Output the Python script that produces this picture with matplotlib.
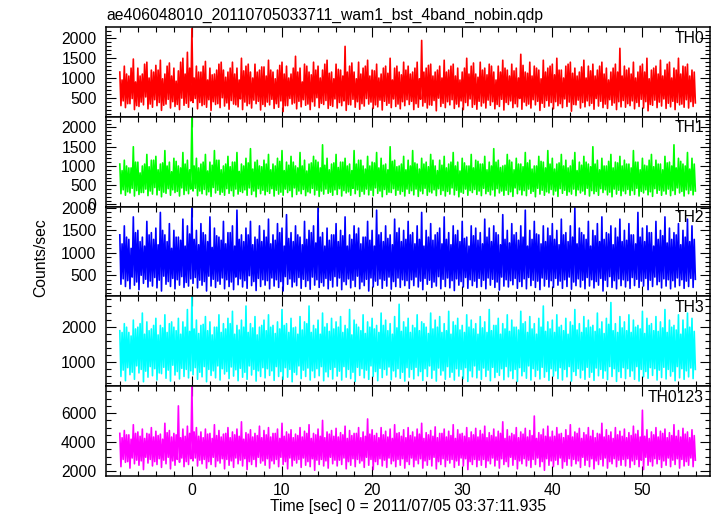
import numpy as np
import matplotlib
matplotlib.use("Agg")
import matplotlib.pyplot as plt
from matplotlib.ticker import MultipleLocator

plt.rcParams['font.family'] = ['Liberation Sans', 'DejaVu Sans']

title = "ae406048010_20110705033711_wam1_bst_4band_nobin.qdp"
xlabel = "Time [sec] 0 = 2011/07/05 03:37:11.935"
ylabel = "Counts/sec"
bands = ["TH0", "TH1", "TH2", "TH3", "TH0123"]
colors = ["#ff0000", "#00ff00", "#0000ff", "#00ffff", "#ff00ff"]
t_start = -8.0
t_step = 0.125

#peak / trough estimates, two per 0.5 s (hi, hi2 and lo, lo2)
th0_hi = [1150,1300,1050,1480,1250,1100,1400,1200, 1320,1450,1100,1380,1250,1180,1500,1650,
          2250,1300,1150,1420,1250,1100,1350,1200, 1150,1400,1250,1500,1300,1150,1350,1200,
          1280,1450,1150,1200,1400,1300,1100,1550, 1250,1350,1150,1400,1300,1200,1450,1150,
          1350,1200,1800,1300,1150,1400,1250,1450, 1200,1350,1100,1300,1500,1250,1150,1400,
          1300,1150,1400,1950,1250,1350,1150,1300, 1450,1200,1350,1250,1150,1500,1300,1100,
          1400,1250,1350,1150,1300,1450,1200,1350, 1250,1600,1150,1400,1300,1200,1450,1250,
          1350,1500,1200,1300,1400,1250,1150,1450, 1300,1350,1200,1400,1250,1150,1350,1750,
          1300,1250,1400,1150,1350,1500,1200,1300, 1450,1200,1400,1250,1500,1300,1350,1200]
th0_hi2 = [950,1100,1250,900,1050,1350,1000,1150, 1200,980,1300,1050,920,1400,1100,1250,
           1000,1150,1300,950,1080,1200,1400,1020, 1250,1100,950,1180,1350,1000,1150,1280,
           1050,1200,980,1320,1100,1000,1250,1150, 900,1300,1080,1200,1000,1350,1120,980,
           1220,1050,1150,1380,980,1100,1300,1050, 1180,1000,1250,1120,950,1300,1080,1200,
           1100,1250,980,1150,1320,1050,1200,1000, 1150,1300,1050,950,1250,1100,1380,1020,
           1200,1080,1300,950,1150,1250,1050,1180, 1000,1320,1120,1050,1250,980,1150,1300,
           1080,1200,1000,1350,1120,1050,1280,1000, 1180,1050,1300,1100,950,1250,1150,1050,
           1200,1100,1000,1300,1150,980,1250,1100, 1050,1350,1000,1200,1100,1280,1050,1150]
th0_lo = [300,250,350,200,280,320,220,260, 300,180,340,240,280,200,310,260,
          380,220,300,260,180,330,250,290, 210,340,270,200,300,240,350,190,
          280,320,230,260,150,300,340,220, 270,310,200,290,250,330,230,280,
          240,300,180,320,260,210,290,340, 230,270,190,310,250,280,220,300,
          330,200,260,290,240,310,170,280, 250,320,230,270,200,300,260,210,
          290,240,310,220,280,190,330,250, 270,210,300,240,320,180,260,290,
          220,300,250,280,160,320,240,270, 300,210,290,250,230,310,200,270,
          260,300,220,280,240,170,310,250, 290,230,270,200,320,260,240,280]
th0_lo2 = [420,350,480,300,390,520,340,450, 380,310,460,400,330,490,360,420,
           480,380,330,450,400,350,500,370, 430,320,470,390,350,440,410,330,
           390,460,350,420,300,480,370,410, 450,340,400,500,360,430,310,470,
           380,420,330,460,400,350,480,390, 320,440,410,360,470,340,400,450,
           410,350,460,380,320,430,490,360, 400,450,340,420,380,470,330,410,
           370,440,400,330,460,380,420,350, 480,390,340,450,410,360,430,380,
           400,350,470,390,330,440,380,420, 360,480,410,340,450,370,400,430,
           350,420,380,460,400,330,440,390, 470,360,410,380,340,450,400,370]

th1_hi = [1050,1150,950,1500,1100,1000,1300,1150, 1250,1050,1400,1100,1200,1000,1350,1150,
          2300,1200,1050,1300,1100,1400,1150,1000, 1250,1100,1350,1050,1200,1450,1100,1000,
          1150,1300,1050,1200,1400,1100,1250,1000, 1350,1150,1050,1250,1100,1550,1200,1050,
          1300,1100,1200,1050,1400,1150,1000,1250, 1100,1350,1200,1050,1500,1150,1000,1250,
          1150,1400,1050,1200,1100,1300,1000,1150, 1250,1050,1350,1100,1200,1000,1300,1150,
          1050,1250,1100,1450,1150,1000,1300,1100, 1200,1050,1350,1150,1000,1250,1100,1400,
          1200,1050,1300,1150,1000,1350,1100,1250, 1050,1500,1150,1200,1000,1300,1100,1250,
          1150,1050,1400,1100,1200,1000,1300,1150, 1050,1250,1100,1550,1200,1050,1350,1200]
th1_hi2 = [880,1000,950,1100,820,1050,980,1150, 900,1080,1000,850,1120,950,1050,900,
           1000,950,1100,870,1020,1150,900,1050, 980,1100,860,1000,1080,920,1150,980,
           1050,900,1000,1120,880,1020,1100,950, 1000,870,1080,1150,950,1020,900,1080,
           960,1100,1000,880,1050,1150,920,1000, 1080,950,1020,900,1120,980,1050,900,
           1000,1080,920,1050,980,1150,880,1020, 950,1100,1000,870,1080,1000,950,1120,
           1050,900,1000,1100,960,1020,1150,900, 1050,980,1080,920,1000,1120,950,1050,
           920,1080,1000,950,1150,880,1020,1100, 980,1050,900,1000,1120,950,1080,1000,
           1050,950,1100,900,1020,1150,980,1050, 900,1080,1000,950,1120,1000,920,1050]
th1_lo = [280,240,300,220,260,310,230,270, 250,200,290,240,310,220,260,280,
          350,230,280,250,210,300,260,240, 290,220,270,310,240,260,200,280,
          250,290,220,270,240,310,200,260, 280,230,300,250,210,270,290,240,
          260,220,300,240,280,210,270,250, 230,290,200,260,310,240,270,220,
          290,250,210,280,240,300,230,260, 220,270,250,200,290,240,310,260,
          230,280,250,220,300,240,260,210, 280,250,230,290,200,270,240,300,
          250,210,290,240,270,230,300,260, 220,280,240,310,250,200,270,230,
          280,240,260,220,300,250,210,290, 240,270,230,260,300,220,280,250]
th1_lo2 = [380,330,420,360,310,400,350,440, 370,320,410,380,340,430,360,400,
           420,350,390,330,440,370,320,410, 360,400,340,380,430,350,410,370,
           340,410,370,320,400,360,430,350, 390,330,420,370,350,400,320,380,
           410,360,330,420,380,340,400,370, 430,350,390,320,410,370,340,400,
           360,400,350,420,330,380,410,360, 340,430,370,320,400,360,390,350,
           420,340,380,410,350,370,330,430, 380,360,400,340,420,370,330,390,
           350,410,370,330,400,380,350,420, 360,340,410,380,320,400,370,350,
           390,360,420,340,380,330,410,370, 350,400,360,430,340,380,370,350]

th2_hi = [1400,1600,1300,1800,1500,1350,1700,1450, 1550,1900,1400,1650,1500,1350,1750,1600,
          2000,1500,1650,1400,1800,1550,1350,1700, 1450,1600,1950,1400,1550,1700,1350,1600,
          1500,1750,1400,1650,1550,1850,1450,1600, 1350,1700,1500,1600,2000,1450,1550,1400,
          1650,1500,1800,1400,1600,1550,1350,1700, 1500,1950,1450,1600,1400,1750,1550,1500,
          1700,1450,1600,1900,1500,1650,1400,1550, 1800,1450,1600,1500,1700,1350,1600,1550,
          1450,1750,1550,1600,1400,1850,1500,1650, 1450,1600,1950,1500,1700,1400,1600,1550,
          1650,1500,1750,1450,1600,2000,1550,1400, 1700,1500,1650,1800,1450,1600,1550,1750,
          1500,1650,1400,1900,1550,1600,1450,1700, 1500,1800,1550,1450,1650,1500,1750,1600]
th2_hi2 = [1200,1350,1100,1450,1250,1150,1400,1300, 1180,1500,1250,1100,1350,1280,1150,1420,
           1300,1180,1450,1250,1120,1380,1280,1200, 1450,1150,1300,1250,1400,1180,1300,1250,
           1350,1200,1280,1450,1150,1320,1250,1400, 1180,1300,1450,1220,1350,1150,1280,1400,
           1250,1380,1150,1300,1420,1200,1350,1280, 1150,1400,1250,1320,1180,1450,1250,1300,
           1400,1200,1300,1150,1350,1280,1450,1200, 1300,1180,1400,1250,1320,1150,1380,1280,
           1200,1350,1250,1450,1180,1300,1220,1400, 1280,1350,1150,1300,1420,1200,1250,1380,
           1300,1180,1400,1250,1350,1200,1450,1300, 1150,1380,1250,1300,1420,1180,1350,1250,
           1280,1400,1200,1350,1250,1450,1150,1300, 1380,1220,1300,1400,1180,1350,1250,1300]
th2_lo = [300,250,200,280,180,320,240,260, 220,150,300,250,200,280,230,260,
          320,220,280,150,260,230,300,200, 250,180,290,240,210,270,160,250,
          280,200,260,230,150,300,240,270, 210,250,190,280,230,260,200,240,
          260,180,290,220,250,200,270,150, 240,280,210,260,190,250,230,270,
          210,270,240,180,300,230,260,200, 250,220,160,280,240,210,270,230,
          250,200,280,230,170,260,240,290, 210,250,200,270,230,180,260,240,
          230,280,210,250,190,270,240,200, 260,220,280,150,250,230,200,270,
          240,210,270,230,260,180,250,290, 220,260,200,240,270,210,250,230]
th2_lo2 = [420,380,460,350,500,410,370,450, 390,480,360,430,400,470,340,420,
           450,390,360,480,410,370,440,400, 350,460,420,380,490,360,430,400,
           380,440,400,360,470,420,350,450, 410,380,460,400,340,430,390,470,
           440,360,420,390,480,350,410,440, 370,420,390,460,360,440,400,380,
           400,460,370,430,390,350,470,410, 440,380,420,360,450,400,370,430,
           390,440,410,350,460,400,380,430, 360,420,450,390,370,440,410,380,
           430,370,400,460,350,420,390,450, 400,360,430,390,470,380,420,400,
           380,450,410,370,430,390,460,360, 420,400,380,440,400,370,430,410]

th3_hi = [1900,2100,1850,2200,2000,2400,2150,1950, 2250,2050,2350,2100,2000,2250,2150,2500,
          2900,2200,2050,2300,2150,2000,2350,2100, 2250,2450,2050,2200,2600,2100,2300,2000,
          2200,2350,2050,2150,2500,2100,2250,2000, 2300,2150,2600,2050,2200,2400,2100,2250,
          2150,2300,2050,2500,2200,2000,2350,2150, 2250,2050,2400,2200,2100,2300,2650,2150,
          2250,2050,2350,2150,2000,2400,2200,2300, 2100,2450,2150,2250,2050,2350,2200,2100,
          2300,2150,2500,2050,2250,2100,2350,2200, 2000,2450,2150,2300,2100,2250,2600,2150,
          2200,2350,2050,2250,2150,2500,2100,2300, 2200,2050,2400,2150,2250,2700,2100,2300,
          2150,2350,2200,2050,2450,2250,2100,2300, 2150,2500,2200,2050,2350,2200,2400,2250]
th3_hi2 = [1850,2000,1750,1950,2100,1800,1900,2050, 1780,1980,1850,2150,1900,1800,2000,1880,
           1950,1820,2080,1900,1780,2000,1850,1950, 2100,1800,1920,2000,1850,1980,1780,2050,
           1900,2000,1820,1950,2050,1850,1980,1800, 1920,2100,1850,1950,1800,2000,1880,1950,
           2000,1850,1950,1780,2080,1900,1820,2000, 1950,1850,2050,1900,1800,1980,1880,2000,
           1850,1980,1900,2100,1820,1950,2000,1850, 1900,1800,2050,1920,1850,2000,1950,1800,
           1980,1850,1900,2050,1800,1950,1880,2000, 1920,2100,1850,1950,1800,2000,1880,1950,
           1850,2000,1900,1800,2050,1920,1850,1980, 2000,1880,1950,1820,2080,1900,1850,1980,
           1900,1850,2000,1950,1820,2050,1900,1880, 1980,1850,2000,1920,1800,1950,2000,1880]
th3_lo = [600,480,650,520,700,450,580,620, 500,680,550,470,640,530,600,560,
          650,520,590,450,630,560,500,670, 540,610,480,580,520,640,470,600,
          560,630,490,600,520,580,450,650, 540,600,500,570,620,480,590,530,
          610,500,580,540,460,630,560,520, 600,480,570,640,510,590,550,470,
          580,530,620,490,600,550,470,640, 520,580,500,610,540,460,590,560,
          520,600,480,570,630,510,590,540, 460,620,550,500,600,530,580,490,
          610,540,500,590,470,630,560,520, 580,490,620,550,510,600,460,570,
          540,600,520,470,590,550,630,500, 570,530,610,480,560,520,590,540]
th3_lo2 = [780,850,720,900,800,750,880,820, 700,860,780,920,740,830,800,760,
           850,720,880,800,760,900,820,740, 870,790,830,720,900,800,760,850,
           820,760,880,740,850,800,720,900, 780,840,760,820,880,730,800,860,
           750,880,800,720,860,820,780,900, 740,830,800,870,760,820,720,850,
           800,860,740,820,900,780,840,760, 880,720,820,800,850,760,900,780,
           840,780,860,720,820,880,760,800, 850,740,900,820,780,860,740,820,
           760,850,800,880,740,820,780,860, 720,840,800,760,880,820,740,850,
           820,760,880,800,740,850,820,780, 860,800,740,880,820,760,840,800]

th0123_hi = [4600,4800,4500,5200,4700,4900,4600,5000, 4750,4550,5300,4800,4600,6500,4900,5100,
             7900,5000,4700,4900,4600,5200,4800,4550, 5000,4700,4900,5400,4650,4850,4600,5100,
             4800,5000,4600,4900,5300,4700,4850,4550, 5000,4750,5200,4600,4900,5500,4700,4800,
             4950,4650,5100,4800,4600,5000,4700,5600, 4850,4600,5000,4750,4900,5200,4650,4850,
             5000,4700,4900,5300,4650,4800,5050,4600, 4900,4750,5200,4850,4600,5000,4700,4950,
             4800,5100,4650,4900,4750,5400,4850,4600, 5000,4700,4950,4800,5800,4650,4900,5100,
             4750,5000,4600,4850,5200,4700,4950,4650, 5000,4800,4600,5300,4850,4700,5000,4750,
             4900,4650,5100,4800,6200,4850,4700,5000, 4750,4900,4650,5200,4800,4950,4700,4850]
th0123_hi2 = [4300,4500,4200,4600,4400,4250,4550,4350, 4450,4200,4650,4350,4500,4300,4400,4600,
              4700,4400,4300,4550,4250,4450,4350,4600, 4300,4500,4400,4200,4550,4350,4450,4300,
              4500,4350,4600,4250,4400,4550,4300,4450, 4350,4600,4250,4500,4400,4300,4550,4400,
              4350,4500,4250,4450,4600,4300,4400,4550, 4450,4300,4500,4350,4250,4600,4400,4300,
              4450,4350,4550,4250,4500,4400,4300,4600, 4350,4450,4250,4550,4400,4300,4500,4350,
              4550,4300,4450,4350,4600,4250,4400,4500, 4300,4550,4350,4450,4250,4500,4400,4350,
              4400,4550,4300,4450,4350,4600,4250,4500, 4400,4300,4550,4350,4450,4250,4500,4400,
              4300,4450,4550,4350,4400,4250,4500,4350, 4600,4300,4450,4400,4350,4550,4300,4450]
th0123_lo = [2300,2600,2200,2500,2400,2100,2550,2350, 2450,2250,2500,2150,2400,2600,2300,2450,
             2700,2350,2500,2200,2450,2300,2550,2150, 2400,2250,2500,2350,2100,2450,2300,2550,
             2400,2200,2500,2300,2450,2150,2350,2550, 2250,2400,2300,2050,2450,2350,2200,2500,
             2350,2450,2150,2400,2300,2550,2250,2400, 2100,2450,2350,2250,2500,2300,2400,2200,
             2450,2300,2500,2200,2400,2350,2150,2450, 2300,2550,2250,2400,2350,2100,2450,2300,
             2400,2250,2500,2350,2200,2450,2300,2400, 2150,2500,2350,2250,2450,2300,2050,2400,
             2300,2450,2200,2400,2350,2500,2250,2400, 2300,2150,2450,2350,2200,2500,2300,2400,
             2350,2250,2450,2300,2100,2400,2350,2500, 2250,2400,2300,2450,2200,2350,2400,2300]
th0123_lo2 = [2800,2650,2900,2750,2700,2950,2800,2650, 2850,2750,2950,2700,2800,2900,2650,2850,
              2900,2750,2800,2650,2950,2700,2850,2800, 2700,2900,2750,2850,2650,2800,2950,2700,
              2850,2700,2800,2950,2650,2900,2750,2800, 2900,2650,2850,2750,2800,2700,2950,2750,
              2750,2900,2650,2850,2800,2700,2950,2800, 2650,2850,2750,2900,2700,2800,2850,2650,
              2900,2750,2850,2700,2800,2950,2650,2850, 2750,2800,2700,2900,2850,2650,2800,2750,
              2800,2700,2900,2750,2850,2650,2950,2800, 2700,2850,2750,2800,2900,2650,2850,2700,
              2750,2900,2650,2850,2800,2700,2950,2750, 2850,2700,2800,2900,2650,2850,2750,2800,
              2850,2700,2800,2750,2950,2650,2850,2800, 2700,2900,2750,2850,2800,2650,2900,2750]

highs = [(th0_hi, th0_hi2), (th1_hi, th1_hi2), (th2_hi, th2_hi2), (th3_hi, th3_hi2), (th0123_hi, th0123_hi2)]
lows = [(th0_lo, th0_lo2), (th1_lo, th1_lo2), (th2_lo, th2_lo2), (th3_lo, th3_lo2), (th0123_lo, th0123_lo2)]

ylims = [(18, 2290), (-55, 2277), (29, 2030), (323, 2874), (1655, 7862)]
major = [500, 500, 500, 1000, 2000]
minor = [100, 100, 100, 200, 500]

fig, axes = plt.subplots(5, 1, sharex=True, figsize=(7.17, 5.16), dpi=100)
fig.subplots_adjust(left=106.3/717, right=710/717, top=1-27/516, bottom=1-476/516, hspace=0)

for i, ax in enumerate(axes):
    n = len(highs[i][0])
    y = np.empty(4*n)
    y[0::4] = highs[i][0]
    y[1::4] = lows[i][0]
    y[2::4] = highs[i][1]
    y[3::4] = lows[i][1]
    t = t_start + t_step*np.arange(len(y))
    ax.plot(t, y, color=colors[i], lw=1.2)
    ax.set_ylim(*ylims[i])
    ax.set_xlim(-9.5, 57.5)
    ax.yaxis.set_major_locator(MultipleLocator(major[i]))
    ax.yaxis.set_minor_locator(MultipleLocator(minor[i]))
    ax.xaxis.set_major_locator(MultipleLocator(10))
    ax.xaxis.set_minor_locator(MultipleLocator(2))
    ax.tick_params(which='both', direction='in', top=True, right=True, labelsize=11.3, width=0.8)
    ax.tick_params(which='major', length=7, pad=7)
    ax.tick_params(which='minor', length=3.5)
    for s in ax.spines.values():
        s.set_linewidth(1.1)
    ax.text(0.99, 0.96, bands[i], transform=ax.transAxes, ha='right', va='top', fontsize=11.3)

axes[-1].tick_params(axis='x', which='major', pad=5)
fig.text(408/717, 1-507/516, xlabel, ha='center', va='center', fontsize=11.3)
fig.text(106.3/717, 1-8/516, title, ha='left', va='top', fontsize=11.3)
fig.text(41/717, 1-258/516, ylabel, rotation=90, ha='center', va='center', fontsize=11.3)

fig.savefig("out.png", dpi=100)
